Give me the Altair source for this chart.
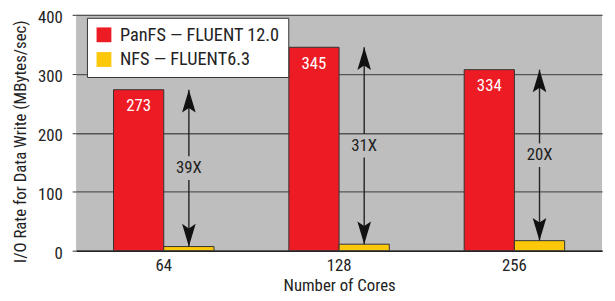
import altair as alt
import pandas as pd

cores = ["64", "128", "256"]
series_names = ["PanFS — FLUENT 12.0", "NFS — FLUENT6.3"]
panfs = [273, 345, 307]
nfs = [7, 11, 17]
panfs_labels = ["273", "345", "334"]
ratios = ["39X", "31X", "20X"]
colors = ["#ed1c24", "#fdc70a"]

FONT = "Roboto Condensed, Liberation Sans, sans-serif"
FS = 17

bars = pd.DataFrame({
    "cores": cores * 2,
    "series": [series_names[0]] * 3 + [series_names[1]] * 3,
    "value": panfs + nfs,
})
labels_df = pd.DataFrame({"cores": cores, "series": series_names[0],
                          "value": panfs, "label": panfs_labels})
gap = 20
arrows = pd.DataFrame({
    "cores": cores,
    "series": series_names[1],
    "top": panfs,
    "bottom": nfs,
    "mid": [(a + b) / 2 for a, b in zip(panfs, nfs)],
    "ratio": ratios,
})
arrows["mid_hi"] = arrows["mid"] + gap
arrows["mid_lo"] = arrows["mid"] - gap

x_enc = alt.X("cores:N", sort=cores,
              scale=alt.Scale(paddingInner=0.427, paddingOuter=0.2135),
              axis=alt.Axis(title="Number of Cores", labelAngle=0, ticks=False,
                            labelPadding=7, titlePadding=4, domainColor="#222",
                            domainWidth=1.5))
xo = alt.XOffset("series:N", sort=series_names,
                 scale=alt.Scale(domain=series_names, paddingInner=0, paddingOuter=0))
y_scale = alt.Scale(domain=[0, 400], nice=False)

bar_layer = alt.Chart(bars).mark_bar(stroke="#333", strokeWidth=1).encode(
    x=x_enc,
    xOffset=xo,
    y=alt.Y("value:Q", scale=y_scale,
            axis=alt.Axis(title="I/O Rate for Data Write (MBytes/sec)",
                          values=[0, 100, 200, 300, 400], tickSize=4,
                          labelPadding=10, labelOffset=3, domain=False, grid=True,
                          gridColor="#555", gridWidth=1.3, tickColor="#333",
                          titlePadding=8, titleY=128)),
    color=alt.Color("series:N", sort=series_names,
                    scale=alt.Scale(domain=series_names, range=colors),
                    legend=alt.Legend(title=None, orient="none", legendX=11, legendY=3,
                                      fillColor="white", strokeColor="#333",
                                      padding=8, symbolType="square", symbolSize=225,
                                      symbolStrokeWidth=0, labelFontSize=18.5,
                                      labelFont=FONT, labelColor="#222",
                                      labelLimit=300, rowPadding=6, labelOffset=7)),
)

text_layer = alt.Chart(labels_df).mark_text(color="white", fontSize=FS, font=FONT,
                                            baseline="middle", dy=17).encode(
    x=alt.X("cores:N", sort=cores), xOffset=xo,
    y=alt.Y("value:Q", scale=y_scale), text="label:N")

rule_top = alt.Chart(arrows).mark_rule(color="#222", strokeWidth=1.4).encode(
    x=alt.X("cores:N", sort=cores), xOffset=xo,
    y=alt.Y("top:Q", scale=y_scale), y2="mid_hi:Q")
rule_bot = alt.Chart(arrows).mark_rule(color="#222", strokeWidth=1.4).encode(
    x=alt.X("cores:N", sort=cores), xOffset=xo,
    y=alt.Y("mid_lo:Q", scale=y_scale), y2="bottom:Q")

up_head = alt.Chart(arrows).mark_point(
    shape="M0,0 L0.6,2 L0,1.6 L-0.6,2 Z", filled=True, color="#111",
    size=529, opacity=1).encode(
    x=alt.X("cores:N", sort=cores), xOffset=xo, y=alt.Y("top:Q", scale=y_scale))
down_head = alt.Chart(arrows).mark_point(
    shape="M0,0 L0.6,-2 L0,-1.6 L-0.6,-2 Z", filled=True, color="#111",
    size=529, opacity=1).encode(
    x=alt.X("cores:N", sort=cores), xOffset=xo, y=alt.Y("bottom:Q", scale=y_scale))

ratio_text = alt.Chart(arrows).mark_text(color="#222", fontSize=FS, font=FONT,
                                         baseline="middle").encode(
    x=alt.X("cores:N", sort=cores), xOffset=xo,
    y=alt.Y("mid:Q", scale=y_scale), text="ratio:N")

chart = alt.layer(bar_layer, text_layer, rule_top, rule_bot, up_head, down_head,
                  ratio_text).properties(
    width=533, height=239,
    background="white",
    autosize=alt.AutoSizeParams(type="none"),
    padding={"left": 69, "top": 5, "right": 5, "bottom": 45},
).configure_view(stroke=None, fill="#bebebe").configure_axis(
    labelFont=FONT, titleFont=FONT, labelFontSize=FS, titleFontSize=FS,
    labelColor="#222", titleColor="#222", titleFontWeight="normal",
)

chart.save("out.html", embed_options={"renderer": "svg", "actions": False})
